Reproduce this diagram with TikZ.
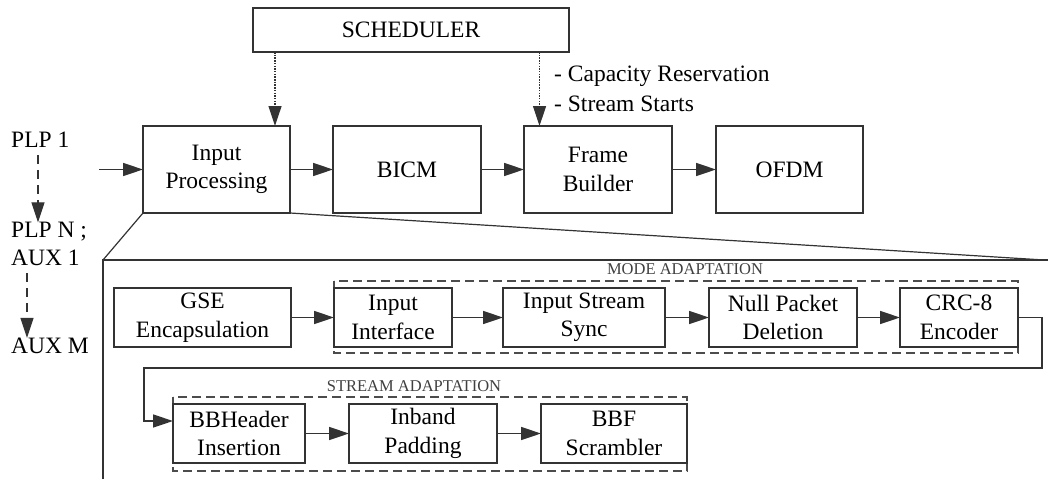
\documentclass[tikz,border=0pt]{standalone}
\usepackage{fontspec}
\setmainfont{Liberation Serif}
\usetikzlibrary{arrows.meta,calc}
\begin{document}
\begin{tikzpicture}[x=1pt,y=-1pt,
  lw/.style={line width=1.5pt, draw=black!80},
  blk/.style={lw, rectangle, inner sep=0pt, outer sep=0pt, align=center,
    font=\fontsize{23.5}{28.5}\selectfont},
  arr/.style={lw, -{Triangle[length=20pt,width=13pt]}},
  sdot/.style={line width=1.2pt, draw=black!80, dash pattern=on 1.5pt off 1.2pt, -{Triangle[length=20pt,width=13pt]}},
  pdash/.style={line width=1.2pt, draw=black!80, dash pattern=on 9pt off 6pt, -{Triangle[length=20pt,width=13pt]}},
  grp/.style={line width=1.5pt, draw=black!70, dash pattern=on 9pt off 5pt},
  lbl/.style={inner sep=0pt, font=\fontsize{23.5}{28.5}\selectfont},
  glbl/.style={inner sep=0pt, font=\fontsize{16.5}{19}\selectfont, text=black!75}
]
\useasboundingbox (0,0) rectangle (1048,479);

% top row
\node[blk, minimum width=316pt, minimum height=44pt] (sched) at (411,30) {SCHEDULER};
\node[blk, minimum width=147pt, minimum height=87pt] (inp) at (216.5,169.5) {Input\\Processing};
\node[blk, minimum width=148pt, minimum height=87pt] (bicm) at (407,169.5) {BICM};
\node[blk, minimum width=148pt, minimum height=87pt] (frame) at (598,169.5) {Frame\\Builder};
\node[blk, minimum width=147pt, minimum height=87pt] (ofdm) at (789.5,169.5) {OFDM};

\draw[arr] (inp) -- (bicm);
\draw[arr] (bicm) -- (frame);
\draw[arr] (frame) -- (ofdm);

\coordinate (xa) at (275,0);
\coordinate (xb) at (539.5,0);
\draw[sdot] (sched.south -| xa) -- (inp.north -| xa);
\draw[sdot] (sched.south -| xb) -- (frame.north -| xb);
\node[lbl, anchor=west] (cap) at (554,76) {- Capacity Reservation};
\node[lbl, anchor=west] (ss) at (554,104) {- Stream Starts};

% inputs
\node[lbl, anchor=west] (plp1) at (11,140) {PLP 1};
\node[lbl, anchor=west] (plpn) at (11,232) {PLP N ;};
\node[lbl, anchor=west] (aux1) at (11,258) {AUX 1};
\node[lbl, anchor=west] (auxm) at (11,346) {AUX M};
\coordinate (pa) at (38,0);
\coordinate (pb) at (27,0);
\draw[pdash] (plp1.south -| pa) ++(0,7) -- (plpn.north -| pa);
\draw[pdash] (aux1.south -| pb) ++(0,7) -- (auxm.north -| pb);
\coordinate (in0) at (99,169.5);
\draw[arr] (in0) -- (inp.west);

% expansion
\coordinate (bl) at (103,479);
\coordinate (tl) at (103,260);
\coordinate (tr) at (1048,260);
\coordinate (pr) at (1044,260);
\draw[lw] (bl) -- (tl) -- (tr);
\draw[lw, line width=1.2pt] (inp.south west) -- (tl);
\draw[lw, line width=1.2pt] (inp.south east) -- (pr);

% groups
\draw[grp] (334,281) rectangle (1018,353);
\node[glbl] (mode) at (685,269) {MODE ADAPTATION};
\draw[grp] (173,397) rectangle (687,471);
\node[glbl] (stream) at (414,386) {STREAM ADAPTATION};

% lower blocks
\node[blk, minimum width=177pt, minimum height=59pt] (gse) at (202.5,317.5) {GSE\\Encapsulation};
\node[blk, minimum width=118pt, minimum height=59pt] (iif) at (393,317.5) {Input\\Interface};
\node[blk, minimum width=162pt, minimum height=59pt] (iss) at (584,317.5) {Input Stream\\Sync};
\node[blk, minimum width=148pt, minimum height=59pt] (npd) at (783,317.5) {Null Packet\\Deletion};
\node[blk, minimum width=118pt, minimum height=59pt] (crc) at (959,317.5) {CRC-8\\Encoder};
\node[blk, minimum width=132pt, minimum height=59pt] (bbh) at (239,433.5) {BBHeader\\Insertion};
\node[blk, minimum width=148pt, minimum height=59pt] (inb) at (423,433.5) {Inband\\Padding};
\node[blk, minimum width=146pt, minimum height=59pt] (bbf) at (614,433.5) {BBF\\Scrambler};

\draw[arr] (gse) -- (iif);
\draw[arr] (iif) -- (iss);
\draw[arr] (iss) -- (npd);
\draw[arr] (npd) -- (crc);
\draw[arr] (bbh) -- (inb);
\draw[arr] (inb) -- (bbf);

\coordinate (c1) at (1042,368);
\coordinate (c2) at (144,368);
\draw[arr] (crc.east) -| (c1) -- (c2) |- ($(bbh.west)+(0,-12.5)$);
\end{tikzpicture}
\end{document}
